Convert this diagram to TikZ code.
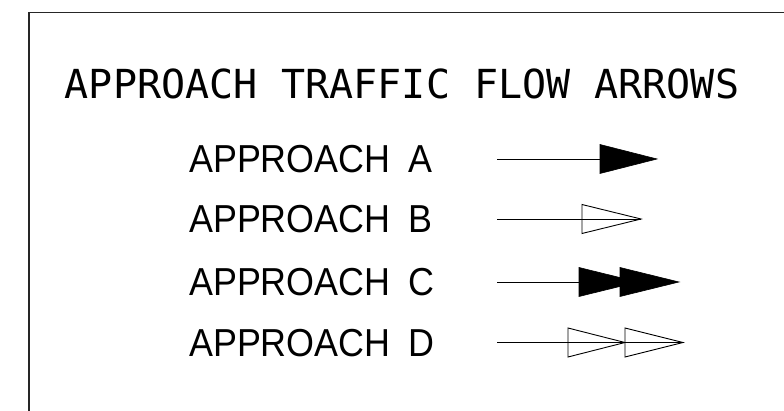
\documentclass[tikz,border=0pt]{standalone}
\usepackage{fontspec}
\newfontfamily\titlefont{DejaVu Sans Mono}
\newfontfamily\labelfont[FakeStretch=0.92]{Liberation Sans}
\begin{document}
\begin{tikzpicture}[x=1pt,y=-1pt,
  frame/.style={draw=black!85,line width=1.4pt},
  titletext/.style={inner sep=0pt,font=\titlefont\fontsize{40}{40}\selectfont},
  labeltext/.style={inner sep=0pt,anchor=west,font=\labelfont\fontsize{39}{39}\selectfont},
  shaft/.style={draw=black,line width=0.9pt},
  solidhead/.style={fill=black,draw=black,line width=0.6pt,line join=miter},
  openhead/.style={draw=black,line width=0.9pt,fill=none,line join=miter}]
\useasboundingbox (0,0) rectangle (784,411);
% frame
\coordinate (fl) at (29,411);
\coordinate (fc) at (29,12.5);
\coordinate (fr) at (784,12.5);
\draw[frame] (fl) -- (fc) -- (fr);
% title
\node[titletext] (title) at (402,84) {APPROACH TRAFFIC FLOW ARROWS};
% labels
\node[labeltext] (la) at (189,159) {APPROACH\hspace{18pt}A};
\node[labeltext] (lb) at (189,219.5) {APPROACH\hspace{18pt}B};
\node[labeltext] (lc) at (189,282.5) {APPROACH\hspace{18pt}C};
\node[labeltext] (ld) at (189,343) {APPROACH\hspace{18pt}D};
% arrow A
\coordinate (a0) at (497,159);
\coordinate (a1) at (600,159);
\coordinate (a2) at (657,159);
\draw[shaft] (a0) -- (a1);
\draw[solidhead] (600,144.5) -- (a2) -- (600,173.5) -- cycle;
% arrow B
\coordinate (b0) at (497,219);
\coordinate (b2) at (641,219);
\draw[shaft] (b0) -- (b2);
\draw[openhead] (582,204.5) -- (b2) -- (582,233.5) -- cycle;
% arrow C
\coordinate (c0) at (497,282);
\coordinate (c1) at (579,282);
\coordinate (c2) at (679,282);
\draw[shaft] (c0) -- (c1);
\draw[solidhead] (579,267.5) -- (638,282) -- (579,296.5) -- cycle;
\draw[solidhead] (620,267.5) -- (c2) -- (620,296.5) -- cycle;
% arrow D
\coordinate (d0) at (497,342.5);
\coordinate (d2) at (683,342.5);
\draw[shaft] (d0) -- (d2);
\draw[openhead] (568,328) -- (625,342.5) -- (568,357) -- cycle;
\draw[openhead] (625,328) -- (d2) -- (625,357) -- cycle;
\end{tikzpicture}
\end{document}
